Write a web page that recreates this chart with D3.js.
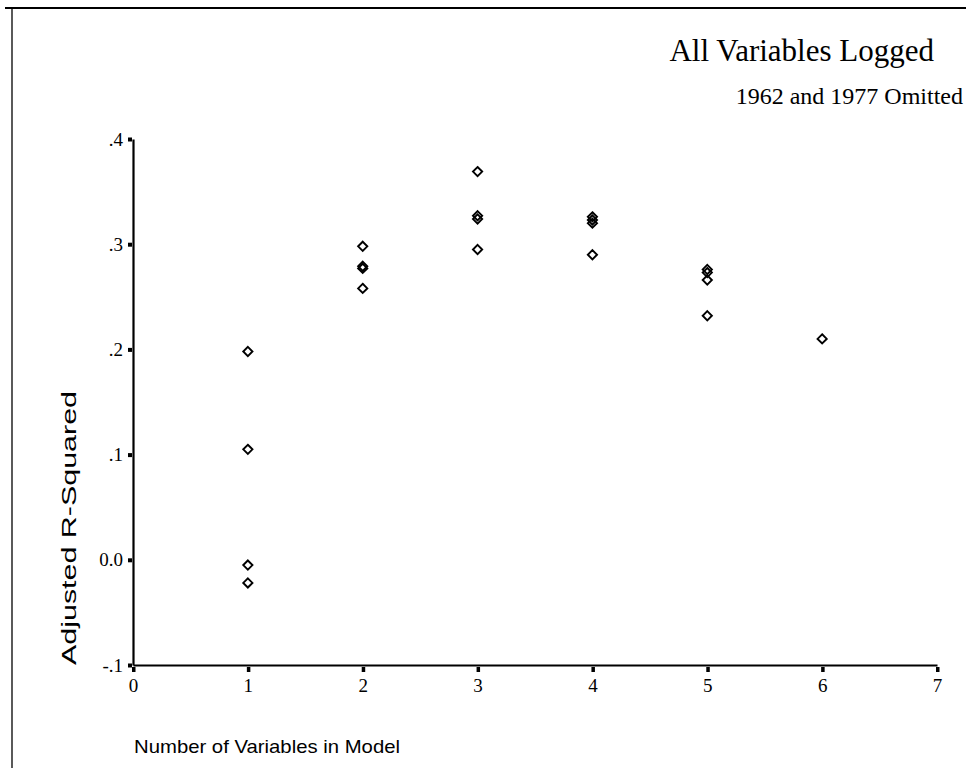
<!DOCTYPE html>
<html><head><meta charset="utf-8">
<script src="https://cdn.jsdelivr.net/npm/d3@7"></script>
<style>body{margin:0;background:#fff}svg{display:block}</style>
</head><body><svg id="c" width="966" height="768"></svg>
<script>
const title = "All Variables Logged";
const subtitle = "1962 and 1977 Omitted";
const xTitle = "Number of Variables in Model";
const yTitle = "Adjusted R-Squared";
const xTicks = [0,1,2,3,4,5,6,7];
const yTicks = [-0.1,0,0.1,0.2,0.3,0.4];
const yTickLabels = ["-.1","0.0",".1",".2",".3",".4"];
const nVars = [1,1,1,1, 2,2,2,2, 3,3,3,3, 4,4,4,4, 5,5,5,5, 6];
const adjR2 = [0.198,0.105,-0.005,-0.022, 0.298,0.279,0.277,0.258, 0.369,0.327,0.324,0.295, 0.326,0.323,0.320,0.290, 0.276,0.273,0.266,0.232, 0.210];

const svg = d3.select("#c");
const x = d3.scaleLinear().domain([0,7]).range([133,937]);
const y = d3.scaleLinear().domain([-0.1,0.4]).range([665,139]);
const serif = "'Liberation Serif','Times New Roman',serif";
const sans = "'Liberation Sans',Arial,sans-serif";

// frame
svg.append("line").attr("x1",5).attr("x2",966).attr("y1",8).attr("y2",8).attr("stroke","#000").attr("stroke-width",2);
svg.append("line").attr("x1",12).attr("x2",12).attr("y1",8).attr("y2",768).attr("stroke","#000").attr("stroke-width",1.3);

// titles
svg.append("text").attr("x",934).attr("y",61).attr("text-anchor","end")
  .attr("font-family",serif).attr("font-size",31).text(title);
svg.append("text").attr("x",963).attr("y",104).attr("text-anchor","end")
  .attr("font-family",serif).attr("font-size",24).text(subtitle);

// axes
const xAxis = d3.axisBottom(x).tickValues(xTicks).tickSize(0).tickPadding(14).tickFormat(d3.format("d"));
const gx = svg.append("g").attr("transform",`translate(0,${y(-0.1)})`).call(xAxis);
gx.select(".domain").attr("stroke","#000").attr("stroke-width",2.2);
gx.selectAll(".tick text").attr("font-family",serif).attr("font-size",19).attr("fill","#000");
gx.selectAll(".tick").append("rect").attr("x",-1.5).attr("y",2).attr("width",3.5).attr("height",5).attr("fill","#000");

const yAxis = d3.axisLeft(y).tickValues(yTicks).tickSize(0).tickPadding(10).tickFormat((d,i)=>yTickLabels[i]);
const gy = svg.append("g").attr("transform",`translate(${x(0)},0)`).call(yAxis);
gy.select(".domain").attr("stroke","#000").attr("stroke-width",2.2);
gy.selectAll(".tick text").attr("font-family",serif).attr("font-size",19).attr("fill","#000");
gy.selectAll(".tick").append("rect").attr("x",-5).attr("y",-2).attr("width",4).attr("height",4).attr("fill","#000");

// axis titles
svg.append("text").attr("x",134).attr("y",753).attr("font-family",sans).attr("font-size",19)
  .attr("textLength",266).attr("lengthAdjust","spacingAndGlyphs").text(xTitle);
svg.append("text").attr("transform","translate(76,665) rotate(-90)").attr("font-family",sans).attr("font-size",20)
  .attr("textLength",274).attr("lengthAdjust","spacingAndGlyphs").text(yTitle);

// points
const pts = nVars.map((n,i)=>({n, v:adjR2[i]}));
const r = 4.6;
svg.append("g").selectAll("path").data(pts).join("path")
  .attr("d",d=>{const cx=x(d.n), cy=y(d.v); return `M${cx},${cy-r}L${cx+r},${cy}L${cx},${cy+r}L${cx-r},${cy}Z`;})
  .attr("fill","none").attr("stroke","#000").attr("stroke-width",1.9);
</script></body></html>
